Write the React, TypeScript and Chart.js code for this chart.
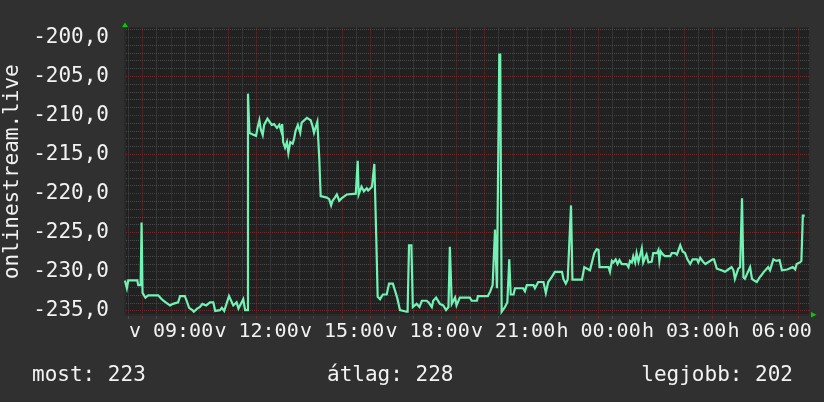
import { useEffect, useRef } from 'react';
import { Chart, registerables } from 'chart.js';

Chart.register(...registerables);

// Sample times in minutes since Sunday 00:00 (v = vasárnap, h = hétfő)
const sampleMinutes = [
  443, 447, 450, 469, 471, 476, 478, 480, 486, 492, 513, 519, 524, 531, 538, 544, 555, 559, 569, 573,
  578, 585, 588, 595, 601, 606, 614, 622, 629, 633, 643, 647, 652, 662, 668, 671, 678, 682, 692, 696,
  700, 702, 705, 711, 719, 722, 726, 729, 733, 736, 743, 752, 757, 763, 768, 772, 774, 776, 780, 784,
  787, 791, 796, 799, 802, 807, 812, 815, 826, 834, 838, 841, 848, 852, 855, 868, 873, 877, 880, 885,
  889, 894, 899, 910, 929, 933, 935, 941, 946, 952, 955, 963, 968, 972, 975, 980, 986, 994, 999, 1007,
  1012, 1016, 1022, 1036, 1038, 1041, 1046, 1049, 1057, 1063, 1068, 1078, 1082, 1089, 1092, 1098, 1106, 1113, 1119, 1124,
  1127, 1131, 1138, 1141, 1148, 1169, 1173, 1184, 1186, 1207, 1212, 1217, 1222, 1226, 1231, 1233, 1236, 1243, 1248, 1252,
  1255, 1261, 1264, 1281, 1285, 1289, 1303, 1306, 1313, 1324, 1329, 1334, 1341, 1348, 1363, 1366, 1371, 1375, 1382, 1385,
  1405, 1410, 1416, 1422, 1426, 1431, 1436, 1440, 1442, 1461, 1464, 1468, 1471, 1476, 1480, 1484, 1489, 1499, 1503, 1506,
  1510, 1513, 1517, 1520, 1524, 1531, 1534, 1538, 1541, 1545, 1552, 1555, 1563, 1566, 1568, 1571, 1576, 1580, 1591, 1594,
  1601, 1605, 1612, 1617, 1622, 1627, 1633, 1638, 1647, 1650, 1654, 1660, 1665, 1680, 1683, 1689, 1699, 1706, 1713, 1720,
  1724, 1727, 1734, 1738, 1742, 1745, 1748, 1759, 1763, 1767, 1773, 1779, 1782, 1788, 1797, 1801, 1808, 1814, 1821, 1826,
  1837, 1849, 1854, 1857, 1864, 1867, 1870, 1874,
];

const streamValues = [
  -231.1, -232.1, -231.1, -231.1, -231.7, -231.7, -223.7, -232.7, -233.3, -233.0, -233.0, -233.4, -233.7, -234.0, -234.3, -234.1, -233.9, -233.1, -233.1, -233.7,
  -234.6, -234.9, -235.1, -234.7, -234.5, -234.1, -234.3, -233.9, -233.9, -235.0, -234.9, -234.6, -235.0, -233.1, -233.9, -234.3, -233.9, -234.7, -233.5, -234.9,
  -234.9, -207.2, -212.2, -212.4, -212.6, -211.6, -210.6, -211.8, -212.5, -211.2, -210.4, -211.2, -211.1, -211.6, -211.2, -212.0, -211.1, -213.4, -214.1, -213.4,
  -214.8, -213.4, -213.6, -213.0, -212.0, -211.2, -212.2, -210.9, -210.3, -210.6, -211.4, -212.2, -210.8, -215.4, -220.3, -220.5, -220.7, -221.5, -220.9, -220.5,
  -220.1, -220.9, -220.6, -220.1, -220.0, -215.8, -220.1, -219.1, -219.7, -219.3, -219.6, -219.1, -216.2, -225.5, -233.2, -233.5, -232.9, -232.9, -231.5, -231.5,
  -232.5, -233.3, -234.9, -235.1, -235.1, -226.6, -226.6, -234.5, -234.1, -234.5, -233.7, -233.7, -233.9, -234.5, -233.7, -233.3, -234.1, -234.3, -234.9, -234.5,
  -226.8, -234.1, -233.3, -234.3, -233.3, -233.3, -233.7, -233.7, -233.1, -233.1, -232.5, -231.7, -224.6, -232.1, -202.2, -202.2, -235.1, -234.5, -233.9, -228.4,
  -232.9, -232.9, -232.1, -232.1, -232.5, -231.7, -231.7, -232.1, -231.3, -231.3, -232.7, -231.3, -230.7, -230.0, -230.0, -230.9, -231.5, -231.0, -221.5, -231.0,
  -231.0, -229.4, -229.6, -229.8, -228.8, -227.6, -227.1, -227.2, -229.4, -229.4, -230.0, -228.6, -228.8, -228.4, -229.0, -228.5, -229.0, -229.0, -229.4, -228.6,
  -228.8, -228.0, -228.8, -227.6, -228.7, -227.0, -228.8, -228.2, -227.8, -228.8, -228.7, -227.6, -227.6, -227.2, -228.6, -227.4, -227.8, -228.0, -228.0, -227.6,
  -227.6, -227.8, -226.6, -227.4, -227.6, -228.4, -229.0, -228.4, -228.4, -228.8, -228.2, -228.7, -229.0, -228.4, -228.4, -229.6, -229.8, -230.0, -229.7, -229.4,
  -229.8, -230.9, -229.6, -229.4, -220.6, -230.7, -230.9, -229.4, -230.9, -231.1, -231.3, -230.7, -230.5, -230.0, -229.4, -229.8, -228.4, -228.6, -228.5, -229.8,
  -229.7, -229.4, -229.7, -229.0, -228.8, -228.6, -222.8, -222.8,
];

const xRange = [441, 1883];
const yRange = [-235.65, -198.75];
const dayLetters = ['v', 'h'];
const axisTitle = 'onlinestream.live';
const summaryLabels = ['most', 'átlag', 'legjobb'];
const summaryValues = [223, 228, 202];

const FONT = "'DejaVu Sans Mono', monospace";
const TEXT = '#f2f2f2';
const RED = '#6a2c2c';
const GRAY = '#4a4a4a';
const ARROW = '#00cc00';

const rrdPlugin = {
  id: 'rrdLook',
  beforeDraw(chart: any) {
    const { ctx, chartArea: a, width, height } = chart;
    ctx.save();
    ctx.fillStyle = '#303030';
    ctx.fillRect(0, 0, width, height);
    ctx.fillStyle = '#212121';
    ctx.fillRect(a.left, a.top, a.right - a.left, a.bottom - a.top);
    ctx.restore();
  },
  beforeDatasetsDraw(chart: any) {
    const { ctx, chartArea: a } = chart;
    ctx.save();
    ctx.strokeStyle = '#2a2a2a';
    ctx.lineWidth = 2;
    ctx.beginPath();
    ctx.moveTo(a.left + 1, a.top);
    ctx.lineTo(a.left + 1, a.bottom);
    ctx.moveTo(a.left, a.bottom - 1);
    ctx.lineTo(a.right, a.bottom - 1);
    ctx.stroke();
    ctx.restore();
  },
  afterDraw(chart: any) {
    const { ctx, chartArea: a } = chart;
    ctx.save();
    ctx.fillStyle = ARROW;
    ctx.beginPath();
    ctx.moveTo(a.left - 2, a.top - 0.5);
    ctx.lineTo(a.left + 1, a.top - 5);
    ctx.lineTo(a.left + 4, a.top - 0.5);
    ctx.closePath();
    ctx.fill();
    ctx.beginPath();
    ctx.moveTo(a.right + 2, a.bottom - 4);
    ctx.lineTo(a.right + 7.5, a.bottom - 1.2);
    ctx.lineTo(a.right + 2, a.bottom + 1.5);
    ctx.closePath();
    ctx.fill();

    ctx.fillStyle = TEXT;
    ctx.font = `21px ${FONT}`;
    ctx.textBaseline = 'alphabetic';
    const texts = summaryLabels.map((l, i) => `${l}: ${summaryValues[i]}`);
    ctx.textAlign = 'left';
    ctx.fillText(texts[0], 32, 381);
    ctx.fillText(texts[1], 327, 381);
    ctx.textAlign = 'right';
    ctx.fillText(texts[2], 793, 381);
    ctx.restore();
  },
};

export default function App() {
  const canvasRef = useRef<HTMLCanvasElement | null>(null);

  useEffect(() => {
    document.body.style.margin = '0';
    const canvas = canvasRef.current;
    if (!canvas) return;
    const points = sampleMinutes.map((m, i) => ({ x: m, y: streamValues[i] }));
    const chart = new Chart(canvas, {
      type: 'line',
      data: {
        datasets: [
          {
            data: points,
            borderColor: '#72f2b4',
            borderWidth: 2.2,
            pointRadius: 0,
            tension: 0,
            fill: false,
          },
        ],
      },
      options: {
        responsive: false,
        animation: false,
        layout: { padding: { left: 0, top: 13, right: 15, bottom: 0 } },
        plugins: { legend: { display: false }, tooltip: { enabled: false } },
        scales: {
          x: {
            type: 'linear',
            min: xRange[0],
            max: xRange[1],
            afterFit: (s: any) => {
              s.height = 86;
            },
            border: { display: false, dash: [1, 1] },
            grid: {
              color: (c: any) => (c.tick && Math.round(c.tick.value) % 60 === 0 ? RED : GRAY),
              tickColor: (c: any) => (c.tick && Math.round(c.tick.value) % 60 === 0 ? RED : GRAY),
              lineWidth: 1,
              drawTicks: true,
              tickLength: 3,
            },
            ticks: {
              stepSize: 30,
              includeBounds: false,
              autoSkip: false,
              maxRotation: 0,
              minRotation: 0,
              padding: 1,
              color: TEXT,
              font: { family: FONT, size: 20 },
              callback: (value: any) => {
                const m = Math.round(Number(value));
                if (m % 180 !== 0) return '';
                const day = m >= 1440 ? dayLetters[1] : dayLetters[0];
                const hh = Math.floor((m % 1440) / 60);
                return `${day} ${String(hh).padStart(2, '0')}:00`;
              },
            },
          },
          y: {
            type: 'linear',
            min: yRange[0],
            max: yRange[1],
            afterFit: (s: any) => {
              s.width = 124;
            },
            border: { display: false, dash: [1, 1] },
            grid: {
              color: (c: any) => (c.tick && Math.round(c.tick.value) % 5 === 0 ? RED : GRAY),
              lineWidth: 1,
              drawTicks: false,
            },
            ticks: {
              stepSize: 1,
              includeBounds: false,
              autoSkip: false,
              padding: 15,
              color: TEXT,
              font: { family: FONT, size: 21 },
              callback: (value: any) => {
                const v = Math.round(Number(value));
                return v % 5 === 0 ? v.toFixed(1).replace('.', ',') : '';
              },
            },
            title: {
              display: true,
              text: axisTitle,
              color: TEXT,
              font: { family: FONT, size: 21 },
              padding: 0,
            },
          },
        },
      },
      plugins: [rrdPlugin],
    } as any);
    return () => chart.destroy();
  }, []);

  return (
    <div style={{ width: 824, height: 402 }}>
      <canvas ref={canvasRef} width={824} height={402} style={{ display: 'block' }} />
    </div>
  );
}
